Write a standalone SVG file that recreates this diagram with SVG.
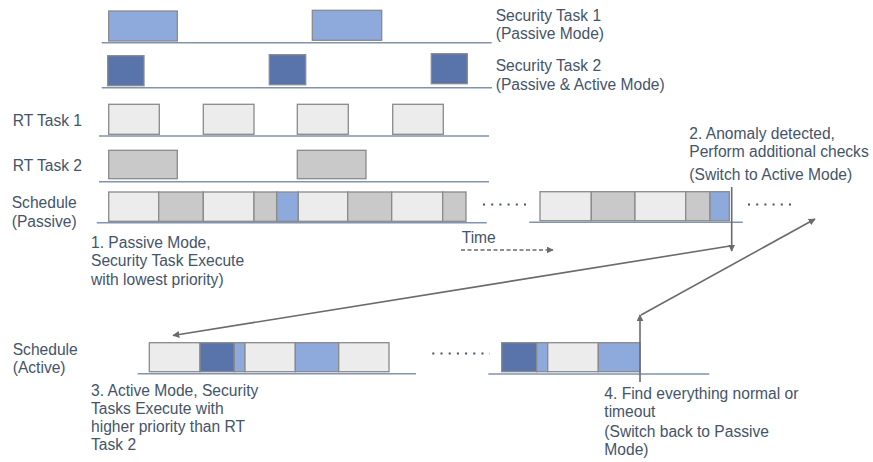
<svg xmlns="http://www.w3.org/2000/svg" width="873" height="462" viewBox="0 0 873 462">
<defs>
<style>
text{font-family:"Liberation Sans",Arial,sans-serif;font-size:15.6px;fill:#44546a}
.base{stroke:#8193ae;stroke-width:1.5;fill:none}
.r{stroke:#8a8a8a;stroke-width:1.3}
.lb{fill:#8eaadc}
.db{fill:#5874aa}
.lg{fill:#ececec}
.g{fill:#c9c9c9}
.arr{stroke:#6b6b6b;stroke-width:1.6;fill:none}
.dots{stroke:#44546a;stroke-width:2;stroke-dasharray:2 6.2;fill:none}
</style>
<marker id="ah" viewBox="0 0 10 10" refX="9" refY="5" markerWidth="7" markerHeight="7" markerUnits="userSpaceOnUse" orient="auto">
<path d="M0,0 L10,5 L0,10 z" fill="#6b6b6b"/>
</marker>
</defs>
<rect width="873" height="462" fill="#fff"/>

<g id="security-task-1">
<line class="base" x1="101.7" y1="42.7" x2="491.7" y2="42.7"/>
<rect class="r lb" x="108.7" y="11" width="68.6" height="30"/>
<rect class="r lb" x="312.3" y="10.3" width="69.4" height="30"/>
<text x="495.7" y="20.5">Security Task 1</text>
<text x="495.7" y="38.5">(Passive Mode)</text>
</g>

<g id="security-task-2">
<line class="base" x1="101.7" y1="87.7" x2="492" y2="87.7"/>
<rect class="r db" x="107.7" y="55.7" width="36.3" height="30"/>
<rect class="r db" x="269.3" y="54.7" width="36.4" height="30"/>
<rect class="r db" x="431.3" y="53.7" width="36" height="30"/>
<text x="495.7" y="71">Security Task 2</text>
<text x="495.7" y="90">(Passive &amp; Active Mode)</text>
</g>

<g id="rt-task-1">
<line class="base" x1="99" y1="136" x2="489" y2="136"/>
<rect class="r lg" x="108.7" y="104.3" width="50.6" height="30"/>
<rect class="r lg" x="203.3" y="104.3" width="50.7" height="30"/>
<rect class="r lg" x="297.3" y="104.3" width="51" height="30"/>
<rect class="r lg" x="392.7" y="104.3" width="50.6" height="30"/>
<text x="12.7" y="126">RT Task 1</text>
</g>

<g id="rt-task-2">
<line class="base" x1="99" y1="181.7" x2="489" y2="181.7"/>
<rect class="r g" x="108.7" y="150.3" width="68.6" height="28.4"/>
<rect class="r g" x="297.3" y="150.3" width="68.7" height="28.4"/>
<text x="12.7" y="171">RT Task 2</text>
</g>

<g id="schedule-passive">
<line class="base" x1="96.7" y1="222.7" x2="486.7" y2="222.7"/>
<rect class="r lg" x="108.7" y="192" width="50" height="29.3"/>
<rect class="r g" x="158.7" y="192" width="44.6" height="29.3"/>
<rect class="r lg" x="203.3" y="192" width="50.7" height="29.3"/>
<rect class="r g" x="254" y="192" width="22.7" height="29.3"/>
<rect class="r lb" x="276.7" y="192" width="21.6" height="29.3"/>
<rect class="r lg" x="298.3" y="192" width="49.4" height="29.3"/>
<rect class="r g" x="347.7" y="192" width="44" height="29.3"/>
<rect class="r lg" x="391.7" y="192" width="51" height="29.3"/>
<rect class="r g" x="442.7" y="192" width="23.3" height="29.3"/>
<line class="dots" x1="483" y1="204.5" x2="526" y2="204.5"/>
<line class="base" x1="529.3" y1="222.3" x2="742.7" y2="222.3"/>
<rect class="r lg" x="540" y="191.7" width="51.3" height="29"/>
<rect class="r g" x="591.3" y="191.7" width="43.7" height="29"/>
<rect class="r lg" x="635" y="191.7" width="50.7" height="29"/>
<rect class="r g" x="685.7" y="191.7" width="24.3" height="29"/>
<rect class="r lb" x="710" y="191.7" width="19.3" height="29"/>
<line class="dots" x1="748" y1="204.5" x2="791" y2="204.5"/>
<text x="11.7" y="207.5">Schedule</text>
<text x="11.7" y="226.5">(Passive)</text>
</g>

<g id="schedule-active">
<line class="base" x1="137.7" y1="373.7" x2="416" y2="373.7"/>
<rect class="r lg" x="149.3" y="342.7" width="50.7" height="29"/>
<rect class="r db" x="200" y="342.7" width="34.3" height="29"/>
<rect class="r lb" x="234.3" y="342.7" width="10.7" height="29"/>
<rect class="r lg" x="245" y="342.7" width="50.3" height="29"/>
<rect class="r lb" x="295.3" y="342.7" width="43.4" height="29"/>
<rect class="r lg" x="338.7" y="342.7" width="50.3" height="29"/>
<line class="dots" x1="432.3" y1="353.5" x2="490" y2="353.5"/>
<line class="base" x1="488.3" y1="374" x2="709.3" y2="374"/>
<rect class="r db" x="501.7" y="342.7" width="35" height="29"/>
<rect class="r lb" x="536.7" y="342.7" width="11" height="29"/>
<rect class="r lg" x="547.7" y="342.7" width="50.6" height="29"/>
<rect class="r lb" x="598.3" y="342.7" width="41.7" height="29"/>
<text x="12.7" y="355">Schedule</text>
<text x="12.7" y="373">(Active)</text>
</g>

<g id="notes">
<text x="91" y="247.5">1. Passive Mode,</text>
<text x="91" y="266">Security Task Execute</text>
<text x="91" y="284.5">with lowest priority)</text>
<text x="689.3" y="139">2. Anomaly detected,</text>
<text x="689.3" y="157">Perform additional checks</text>
<text x="689.3" y="180">(Switch to Active Mode)</text>
<text x="91" y="396">3. Active Mode, Security</text>
<text x="91" y="414">Tasks Execute with</text>
<text x="91" y="432">higher priority than RT</text>
<text x="91" y="450">Task 2</text>
<text x="604.3" y="399">4. Find everything normal or</text>
<text x="604.3" y="417">timeout</text>
<text x="604.3" y="437">(Switch back to Passive</text>
<text x="604.3" y="455">Mode)</text>
<text x="461.7" y="243">Time</text>
</g>

<g id="connectors">
<line x1="461" y1="250" x2="553" y2="250" stroke="#6b6b6b" stroke-width="1.5" stroke-dasharray="4 2.5" marker-end="url(#ah)"/>
<line class="arr" x1="731.7" y1="187" x2="731.7" y2="251" marker-end="url(#ah)"/>
<line class="arr" x1="730" y1="246" x2="173" y2="335.5" marker-end="url(#ah)"/>
<line class="arr" x1="640" y1="382" x2="640" y2="315" marker-end="url(#ah)"/>
<line class="arr" x1="641" y1="315" x2="815" y2="219" marker-end="url(#ah)"/>
</g>
</svg>
